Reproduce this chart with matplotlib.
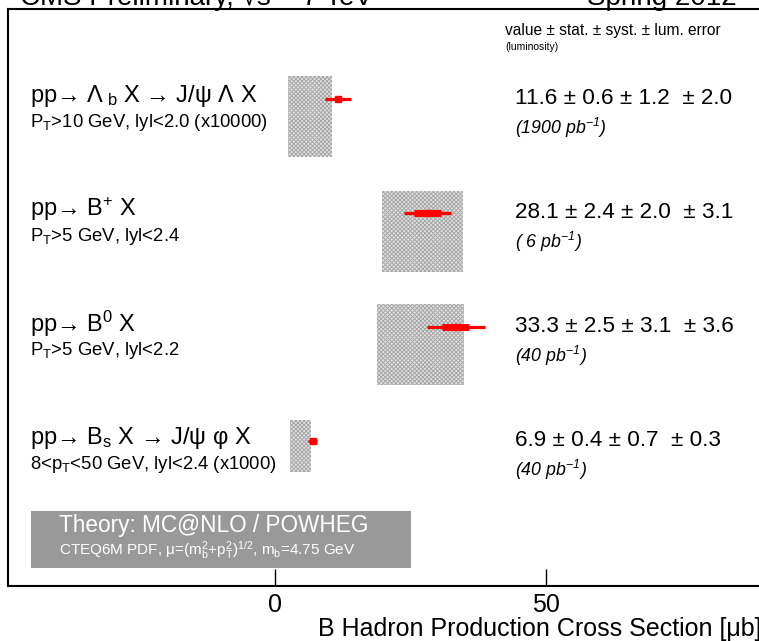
import matplotlib
matplotlib.use("Agg")
import matplotlib.pyplot as plt
from matplotlib.patches import Rectangle

plt.rcParams['font.family'] = ['Liberation Sans', 'DejaVu Sans']
plt.rcParams['mathtext.fontset'] = 'custom'
plt.rcParams['mathtext.rm'] = 'Liberation Sans'
plt.rcParams['mathtext.it'] = 'Liberation Sans:italic'
plt.rcParams['mathtext.default'] = 'regular'
plt.rcParams['hatch.linewidth'] = 0.7

# measurements (micro barn)
rows = [4, 3, 2, 1]
values = [11.6, 28.1, 33.3, 6.9]
stat = [0.6, 2.4, 2.5, 0.4]
syst = [1.2, 2.0, 3.1, 0.7]
lumi = [2.0, 3.1, 3.6, 0.3]
# theory band (MC@NLO / POWHEG)
theory_lo = [2.4, 19.7, 18.8, 2.8]
theory_hi = [10.5, 34.7, 34.9, 6.6]

labels = [r"pp→ Λ$_{\ b}$ X → J/ψ Λ X",
          r"pp→ B$^{+}$ X",
          r"pp→ B$^{0}$ X",
          r"pp→ B$_{s}$ X → J/ψ φ X"]
sublabels = [r"P$_{T}$>10 GeV, lyl<2.0 (x10000)",
             r"P$_{T}$>5 GeV, lyl<2.4",
             r"P$_{T}$>5 GeV, lyl<2.2",
             r"8<p$_{T}$<50 GeV, lyl<2.4 (x1000)"]
lumi_labels = [r"(1900 pb$^{-1}$)", r"( 6 pb$^{-1}$)", r"(40 pb$^{-1}$)", r"(40 pb$^{-1}$)"]

box_top = [0.20, 0.19, 0.20, 0.18]
box_bot = [0.51, 0.52, 0.51, 0.27]

fig = plt.figure(figsize=(7.59, 6.41), dpi=100)
ax = fig.add_axes([8 / 759, (641 - 586) / 641, (763 - 8) / 759, (586 - 9) / 641])
ax.set_xlim(-49.3, 90)
ax.set_ylim(-0.272, 4.789)

for i, r in enumerate(rows):
    # theory band
    ax.add_patch(Rectangle((theory_lo[i], r - box_bot[i]), theory_hi[i] - theory_lo[i],
                           box_top[i] + box_bot[i], facecolor='#e2e2e2',
                           edgecolor='#a8a8a8', lw=0, hatch='xxxxxxxx', zorder=1))
    tot = (stat[i] ** 2 + syst[i] ** 2 + lumi[i] ** 2) ** 0.5
    ax.plot([values[i] - tot, values[i] + tot], [r, r], color='red', lw=2.3,
            solid_capstyle='butt', zorder=3)
    ax.plot([values[i] - stat[i], values[i] + stat[i]], [r, r], color='red', lw=5,
            solid_capstyle='butt', zorder=4)
    ax.plot(values[i], r, 's', color='red', ms=5, zorder=5)

    ax.text(-45.2, r + 0.03, labels[i], fontsize=17, va='center', ha='left')
    ax.text(-45.2, r - 0.21, sublabels[i], fontsize=13.3, va='center', ha='left')
    ax.text(44.2, r, f"{values[i]} ± {stat[i]} ± {syst[i]}  ± {lumi[i]}",
            fontsize=16.2, va='center', ha='left')
    ax.text(44.2, r - 0.25, lumi_labels[i], fontsize=12.8, style='italic',
            va='center', ha='left')

ax.text(42.4, 4.60, "value ± stat. ± syst. ± lum. error", fontsize=11.2, va='center')
ax.text(42.4, 4.46, "(luminosity)", fontsize=7.5, va='center')

# theory legend box
ax.add_patch(Rectangle((-45.0, -0.114), 70.1, 0.5, facecolor='#999999',
                       edgecolor='none', zorder=2))
ax.text(-39.9, 0.263, "Theory: MC@NLO / POWHEG", color='white', fontsize=16.3,
        va='center', zorder=3)
ax.text(-39.9, 0.044,
        r"CTEQ6M PDF, μ=(m$_{b}^{2}$+p$_{T}^{2}$)$^{1/2}$, m$_{b}$=4.75 GeV",
        color='white', fontsize=11, va='center', zorder=3)

ax.set_xticks([0, 50])
ax.set_xticklabels(["0", "50"], fontsize=18)
ax.set_yticks([])
ax.tick_params(axis='x', direction='in', length=12, width=1, pad=5)
for s in ['left', 'bottom', 'top', 'right']:
    ax.spines[s].set_linewidth(1.5)

fig.text(1.003, (641 - 629) / 641, "B Hadron Production Cross Section [μb]",
         fontsize=18, ha='right', va='center')
fig.text(20 / 759, 1 - 5 / 641, "CMS Preliminary, √s = 7 TeV", fontsize=20,
         ha='left', va='baseline')
fig.text(737 / 759, 1 - 5 / 641, "Spring 2012", fontsize=20, ha='right', va='baseline')

fig.savefig("out.png", dpi=100)
